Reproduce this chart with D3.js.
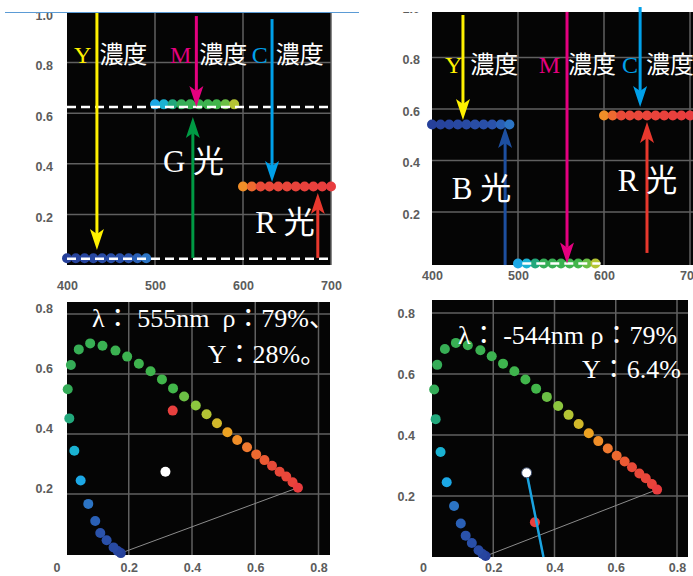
<!DOCTYPE html>
<html>
<head>
<meta charset="utf-8">
<script src="https://cdn.jsdelivr.net/npm/d3@7"></script>
<style>
  html, body { margin: 0; padding: 0; background: #fff; }
  svg { display: block; }
  .tick-label { font-family: "Liberation Sans", Arial, sans-serif; font-weight: bold; font-size: 12.5px; fill: #5c5c5c; }
  .note { font-family: "Liberation Serif", "DejaVu Serif", "Noto Sans CJK JP", serif; fill: #fff; white-space: pre; }
</style>
</head>
<body>
<svg id="chart" width="693" height="576"></svg>
<script>
// ---- data ----
const wavelengthTicks = [400, 500, 600, 700];
const densityTicks = [0.2, 0.4, 0.6, 0.8, 1.0];
const chromaTicks = [0, 0.2, 0.4, 0.6, 0.8];

const blueBand = [400, 410, 420, 430, 440, 450, 460, 470, 480, 490];
const greenBand = [500, 510, 520, 530, 540, 550, 560, 570, 580, 590];
const redBand = [600, 610, 620, 630, 640, 650, 660, 670, 680, 690, 700];

// level of the blue / green / red band
const leftBandLevels = [0.027, 0.635, 0.31];
const rightBandLevels = [0.54, 0.0, 0.575];

// dashed levels: [level, from nm, to nm]
const leftDashes = [[0.625, 400, 700], [0.025, 400, 700]];
const rightDashes = [[0.0, 505, 596]];

// arrows: [ink, nm, from level, to level]
const leftArrows = [
  ['Y', 434, 1.0, 0.059],
  ['M', 547, 0.984, 0.625],
  ['C', 633, 0.972, 0.328],
  ['G', 543, 0.028, 0.585],
  ['R', 685, 0.028, 0.285]
];
const rightArrows = [
  ['Y', 436, 0.965, 0.557],
  ['M', 557, 0.977, 0.0],
  ['C', 642, 0.996, 0.608],
  ['B', 485, -0.006, 0.53],
  ['R', 650, 0.041, 0.55]
];

// captions: [ink letter, rest, nm, level]
const leftInkCaptions = [['Y', '濃度', 408, 0.798], ['M', '濃度', 517, 0.798], ['C', '濃度', 610, 0.798]];
const rightInkCaptions = [['Y', '濃度', 415, 0.74], ['M', '濃度', 524, 0.74], ['C', '濃度', 621, 0.74]];
const leftLightCaptions = [['G 光', 509, 0.368], ['R 光', 614, 0.126]];
const rightLightCaptions = [['B 光', 423, 0.25], ['R 光', 616, 0.28]];

// spectral locus (chromaticity x, y) with the wavelength used for its colour
const locusX = [0.175, 0.165, 0.152, 0.130, 0.110, 0.094, 0.072, 0.048, 0.028, 0.012,
  0.007, 0.017, 0.042, 0.078, 0.117, 0.158, 0.195, 0.232, 0.269, 0.305,
  0.340, 0.375, 0.412, 0.446, 0.479, 0.512, 0.543, 0.574, 0.603, 0.629,
  0.653, 0.677, 0.698, 0.718, 0.735];
const locusY = [0.003, 0.010, 0.022, 0.046, 0.070, 0.110, 0.167, 0.245, 0.344, 0.452,
  0.549, 0.630, 0.682, 0.702, 0.694, 0.678, 0.658, 0.634, 0.609, 0.582,
  0.552, 0.525, 0.495, 0.466, 0.436, 0.406, 0.380, 0.356, 0.332, 0.313,
  0.294, 0.274, 0.258, 0.239, 0.221];
const locusNm = [400, 420, 440, 460, 470, 480, 490, 500, 510, 520,
  525, 530, 535, 540, 545, 550, 555, 560, 565, 570,
  575, 580, 585, 590, 593, 596, 600, 605, 610, 615,
  620, 630, 640, 660, 700];

const leftWhitePoint = [0.316, 0.274];
const leftSamplePoint = [0.339, 0.478];
const rightWhitePoint = [0.309, 0.276];
const rightSamplePoint = [0.336, 0.114];
const rightHueEnd = [0.364, 0.0];

// chroma notes: [text, x, y]
const leftNotes = [['λ： 555nm  ρ：79%、', 0.084, 0.757], ['Y：28%。', 0.45, 0.637]];
const rightNotes = [['λ： -544nm ρ：79%', 0.085, 0.70], ['Y：6.4%', 0.49, 0.587]];

// ---- styles ----
const inks = { Y: '#fff100', M: '#e4007f', C: '#00a0e9', G: '#009a44', R: '#e8382d', B: '#1d4fa0' };
const spectrum = d3.scaleLinear()
  .domain([400, 470, 480, 490, 500, 510, 520, 525, 575, 580, 585, 590, 593, 596, 600, 605, 610, 615, 620, 700])
  .range(['#26409a', '#2a52aa', '#2a60b6', '#2c74c4', '#1ca8e6', '#1ab2d2', '#22a87c', '#34ac58', '#42b64a',
    '#6cbf45', '#8cc63f', '#b4c434', '#d2b82a', '#eca222', '#f08e28', '#f07a30', '#ee6a30', '#ec5a33', '#e84a38', '#e83c3e']);
const gridColor = '#606060';
const dotR = 5;

const svg = d3.select('#chart');

// ---- panels ----
const topLeft = {
  x: d3.scaleLinear().domain([400, 700]).range([67, 331]),
  y: d3.scaleLinear().domain([0, 1]).range([265, 12]),
  box: [67, 12, 331, 265], yPad: 14, yShift: 3, xPad: 16
};
const topRight = {
  x: d3.scaleLinear().domain([400, 700]).range([432, 690]),
  y: d3.scaleLinear().domain([0, 1]).range([263.5, 6]),
  box: [432, 12, 693, 265], yPad: 12, yShift: 2, xPad: 6
};
const bottomLeft = {
  x: d3.scaleLinear().domain([0, 0.8]).range([65.5, 318.5]),
  y: d3.scaleLinear().domain([0, 0.8]).range([554, 314]),
  box: [67, 302, 330, 555], yPad: 14, yShift: -6, xPad: 8
};
const bottomRight = {
  x: d3.scaleLinear().domain([0, 0.8]).range([432, 677]),
  y: d3.scaleLinear().domain([0, 0.8]).range([557, 313]),
  box: [432, 300, 688, 557], yPad: 17, yShift: 0, xPad: 6
};

function drawFrame(p, xTicks, yTicks, xFormat) {
  const g = svg.append('g');
  const [x0, y0, x1, y1] = p.box;
  g.append('rect').attr('x', x0).attr('y', y0).attr('width', x1 - x0).attr('height', y1 - y0).attr('fill', '#050505');

  // grid only inside the black area
  g.selectAll('line.vgrid').data(xTicks.filter(d => p.x(d) > x0 + 1 && p.x(d) <= x1)).join('line')
    .attr('x1', d => p.x(d)).attr('x2', d => p.x(d)).attr('y1', y0).attr('y2', y1)
    .attr('stroke', gridColor).attr('stroke-width', 1.5);
  g.selectAll('line.hgrid').data(yTicks.filter(d => p.y(d) >= y0 && p.y(d) < y1)).join('line')
    .attr('x1', x0).attr('x2', x1).attr('y1', d => p.y(d)).attr('y2', d => p.y(d))
    .attr('stroke', gridColor).attr('stroke-width', 1.5);

  // tick labels
  g.append('g').attr('transform', `translate(${x0},${p.yShift})`)
    .call(d3.axisLeft(p.y).tickValues(yTicks).tickSize(0).tickPadding(p.yPad).tickFormat(d3.format('.1f')))
    .call(a => a.select('.domain').remove())
    .selectAll('text').attr('class', 'tick-label');
  g.append('g').attr('transform', `translate(0,${y1})`)
    .call(d3.axisBottom(p.x).tickValues(xTicks).tickSize(0).tickPadding(p.xPad).tickFormat(xFormat))
    .call(a => a.select('.domain').remove())
    .selectAll('text').attr('class', 'tick-label')
    .attr('dx', d => d === 0 ? -9 : 0);
  return g;
}

function drawArrow(g, x1, y1, x2, y2, color) {
  const L = 21, W = 7, N = 16;
  const len = Math.hypot(x2 - x1, y2 - y1), ux = (x2 - x1) / len, uy = (y2 - y1) / len;
  g.append('line').attr('x1', x1).attr('y1', y1).attr('x2', x2 - ux * N).attr('y2', y2 - uy * N)
    .attr('stroke', color).attr('stroke-width', 3);
  const bx = x2 - ux * L, by = y2 - uy * L;
  g.append('path')
    .attr('d', `M${x2},${y2}L${bx - uy * W},${by + ux * W}L${x2 - ux * N},${y2 - uy * N}L${bx + uy * W},${by - ux * W}Z`)
    .attr('fill', color);
}

function drawSpectrum(p, levels, dashes, arrows, inkCaptions, lightCaptions) {
  const g = drawFrame(p, wavelengthTicks, densityTicks, d3.format('d'));

  [blueBand, greenBand, redBand].forEach((band, i) => {
    g.append('g').selectAll('circle').data(band).join('circle')
      .attr('cx', d => p.x(d)).attr('cy', p.y(levels[i])).attr('r', dotR)
      .attr('fill', d => spectrum(d));
  });

  g.selectAll('line.dash').data(dashes).join('line')
    .attr('x1', d => p.x(d[1])).attr('x2', d => p.x(d[2]))
    .attr('y1', d => p.y(d[0])).attr('y2', d => p.y(d[0]))
    .attr('stroke', '#fff').attr('stroke-width', 2.5).attr('stroke-dasharray', '9,5');

  arrows.forEach(([ink, nm, from, to]) => {
    drawArrow(g, p.x(nm), p.y(from), p.x(nm), p.y(to), inks[ink]);
  });

  inkCaptions.forEach(([ink, rest, nm, level]) => {
    const t = g.append('text').attr('class', 'note').attr('x', p.x(nm)).attr('y', p.y(level)).attr('font-size', 24);
    t.append('tspan').attr('fill', inks[ink]).text(ink);
    t.append('tspan').attr('dx', 8).text(rest);
  });
  lightCaptions.forEach(([label, nm, level]) => {
    g.append('text').attr('class', 'note').attr('x', p.x(nm)).attr('y', p.y(level)).attr('font-size', 31).text(label);
  });
}

function drawChroma(p, notes) {
  const g = drawFrame(p, chromaTicks, chromaTicks.slice(1), d => d === 0 ? '0' : d3.format('.1f')(d));
  const last = locusX.length - 1;
  g.append('line')
    .attr('x1', p.x(locusX[0])).attr('y1', p.y(locusY[0]))
    .attr('x2', p.x(locusX[last])).attr('y2', p.y(locusY[last]))
    .attr('stroke', '#8c8c8c').attr('stroke-width', 1);
  g.append('g').selectAll('circle').data(locusNm).join('circle')
    .attr('cx', (d, i) => p.x(locusX[i])).attr('cy', (d, i) => p.y(locusY[i])).attr('r', dotR)
    .attr('fill', d => spectrum(d));
  notes.forEach(([text, cx, cy]) => {
    g.append('text').attr('class', 'note').attr('x', p.x(cx)).attr('y', p.y(cy)).attr('font-size', 26).text(text);
  });
  return g;
}

// ---- draw ----
drawSpectrum(topLeft, leftBandLevels, leftDashes, leftArrows, leftInkCaptions, leftLightCaptions);
drawSpectrum(topRight, rightBandLevels, rightDashes, rightArrows, rightInkCaptions, rightLightCaptions);

const bl = drawChroma(bottomLeft, leftNotes);
bl.append('circle').attr('cx', bottomLeft.x(leftSamplePoint[0])).attr('cy', bottomLeft.y(leftSamplePoint[1]))
  .attr('r', dotR).attr('fill', '#e8403e');
bl.append('circle').attr('cx', bottomLeft.x(leftWhitePoint[0])).attr('cy', bottomLeft.y(leftWhitePoint[1]))
  .attr('r', dotR).attr('fill', '#fff');

const br = drawChroma(bottomRight, rightNotes);
br.append('circle').attr('cx', bottomRight.x(rightSamplePoint[0])).attr('cy', bottomRight.y(rightSamplePoint[1]))
  .attr('r', dotR).attr('fill', '#e8403e');
br.append('line')
  .attr('x1', bottomRight.x(rightWhitePoint[0])).attr('y1', bottomRight.y(rightWhitePoint[1]))
  .attr('x2', bottomRight.x(rightHueEnd[0])).attr('y2', bottomRight.y(rightHueEnd[1]))
  .attr('stroke', '#1aa3e0').attr('stroke-width', 2.5);
br.append('circle').attr('cx', bottomRight.x(rightWhitePoint[0])).attr('cy', bottomRight.y(rightWhitePoint[1]))
  .attr('r', dotR).attr('fill', '#fff').attr('stroke', '#3a4a6a').attr('stroke-width', 1);

// page edge above the top panels
svg.append('rect').attr('x', 0).attr('y', 0).attr('width', 431).attr('height', 12).attr('fill', '#fff');
svg.append('line').attr('x1', 5).attr('x2', 359).attr('y1', 12.5).attr('y2', 12.5)
  .attr('stroke', '#5b9bd5').attr('stroke-width', 1);
</script>
</body>
</html>
